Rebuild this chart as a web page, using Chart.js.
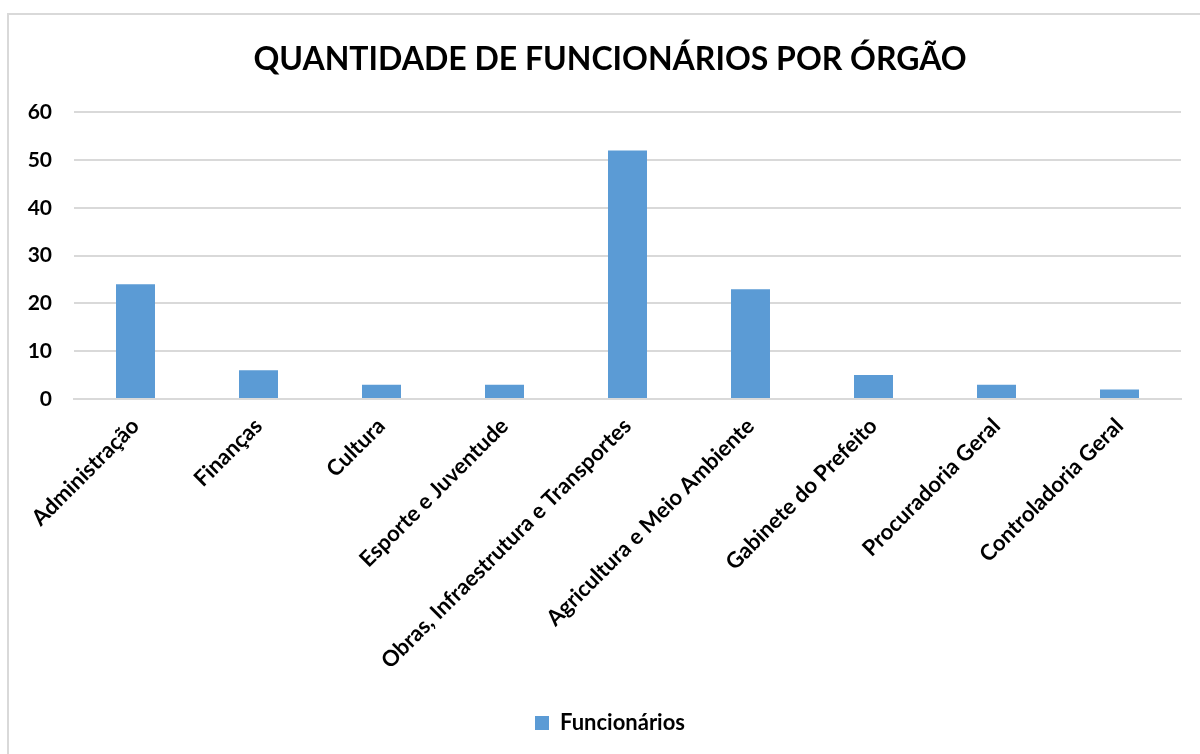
<!DOCTYPE html>
<html>
<head>
<meta charset="utf-8">
<script src="https://cdn.jsdelivr.net/npm/chart.js@4.4.0/dist/chart.umd.min.js"></script>
<style>
  html, body { margin: 0; padding: 0; background: #fff; }
  #frame { position: absolute; left: 7px; top: 13px; width: 1200px; height: 760px;
           border-left: 2px solid #d9d9d9; border-top: 2px solid #d9d9d9; box-sizing: border-box; }
  #wrap { position: absolute; left: 0; top: 0; width: 1200px; height: 754px; }
</style>
</head>
<body>
<div id="frame"></div>
<div id="wrap"><canvas id="c" width="1200" height="754"></canvas></div>
<script>
const titleText = "QUANTIDADE DE FUNCIONÁRIOS POR ÓRGÃO";
const categories = [
  "Administração", "Finanças", "Cultura", "Esporte e Juventude",
  "Obras, Infraestrutura e Transportes", "Agricultura e Meio Ambiente",
  "Gabinete do Prefeito", "Procuradoria Geral", "Controladoria Geral"
];
const seriesName = "Funcionários";
const funcionarios = [24, 6, 3, 3, 52, 23, 5, 3, 2];
const yTicks = [0, 10, 20, 30, 40, 50, 60];

const FONT = "Lato, 'Open Sans', sans-serif";
const barColor = "#5B9BD5";

new Chart(document.getElementById("c"), {
  type: "bar",
  data: {
    labels: categories,
    datasets: [{
      label: seriesName,
      data: funcionarios,
      backgroundColor: barColor,
      borderWidth: 0,
      barPercentage: 0.317,
      categoryPercentage: 1,
      yAxisID: "y"
    }]
  },
  options: {
    responsive: false,
    animation: false,
    devicePixelRatio: 1,
    layout: { padding: { left: 20, right: 0, top: 0, bottom: 10 } },
    plugins: {
      title: {
        display: true,
        text: titleText,
        color: "#000",
        font: { family: FONT, size: 32, weight: "bold" },
        padding: { top: 40, bottom: 34 }
      },
      legend: {
        display: true,
        position: "bottom",
        labels: {
          color: "#000",
          font: { family: FONT, size: 22, weight: "bold" },
          boxWidth: 14,
          boxHeight: 14,
          padding: 10
        }
      },
      tooltip: { enabled: false }
    },
    scales: {
      x: {
        grid: { display: false, drawTicks: false },
        border: { display: true, color: "#d9d9d9", width: 2 },
        ticks: {
          color: "#000",
          font: { family: FONT, size: 22, weight: "bold" },
          maxRotation: 45,
          minRotation: 45,
          autoSkip: false,
          padding: 14
        },
        afterFit: (s) => { s.height = 303; }
      },
      y: {
        position: "left",
        min: 0,
        max: 60,
        afterBuildTicks: (s) => { s.ticks = yTicks.map(v => ({ value: v })); },
        grid: { color: "#d9d9d9", lineWidth: 2, drawTicks: false },
        border: { display: false },
        ticks: {
          color: "#000",
          font: { family: FONT, size: 21, weight: "bold" },
          padding: 22
        },
        afterFit: (s) => { s.width = 54; }
      },
      yR: {
        position: "right",
        min: 0,
        max: 60,
        grid: { display: false, drawTicks: false },
        border: { display: false },
        ticks: { display: false },
        afterFit: (s) => { s.width = 19; }
      }
    }
  }
});
</script>
</body>
</html>
